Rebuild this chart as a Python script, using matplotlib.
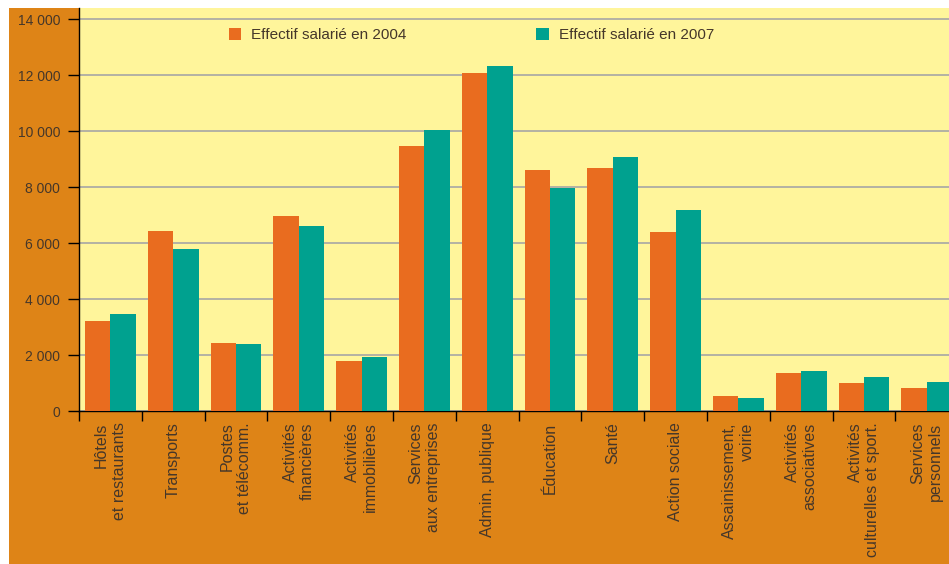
import matplotlib
matplotlib.use("Agg")
import matplotlib.pyplot as plt
from matplotlib.patches import Rectangle
import numpy as np

plt.rcParams['font.family'] = ['Liberation Sans', 'DejaVu Sans']

secteurs = [
    "Hôtels\net restaurants",
    "Transports",
    "Postes\net télécomm.",
    "Activités\nfinancières",
    "Activités\nimmobilières",
    "Services\naux entreprises",
    "Admin. publique",
    "Éducation",
    "Santé",
    "Action sociale",
    "Assainissement,\nvoirie",
    "Activités\nassociatives",
    "Activités\nculturelles et sport.",
    "Services\npersonnels",
]
effectif_2004 = [3220, 6440, 2440, 6980, 1800, 9480, 12080, 8620, 8690, 6400, 550, 1370, 1010, 830]
effectif_2007 = [3480, 5800, 2400, 6620, 1940, 10050, 12330, 7980, 9080, 7190, 480, 1440, 1230, 1050]
graduations = [0, 2000, 4000, 6000, 8000, 10000, 12000, 14000]

ORANGE_FOND = '#de8417'
JAUNE = '#fff59b'
ORANGE = '#e96c1f'
VERT = '#00a18f'
TEXTE = '#45372a'

W, H = 949, 564
fig = plt.figure(figsize=(W / 100, H / 100), dpi=100, facecolor='white')
fig.patches.append(Rectangle((9 / W, 0), 1, (H - 8) / H, transform=fig.transFigure,
                             facecolor=ORANGE_FOND, edgecolor='none', zorder=-1))

# the last group runs past the right edge of the page
left, bottom = 79 / W, (H - 411.3) / H
width, height = 14 * 62.8 / W, (411.3 - 8) / H
ax = fig.add_axes([left, bottom, width, height])
ax.set_facecolor(JAUNE)

x = np.arange(len(secteurs)) + 0.5
w = 0.405
b1 = ax.bar(x - w / 2, effectif_2004, w, color=ORANGE, zorder=3, label="Effectif salarié en 2004")
b2 = ax.bar(x + w / 2, effectif_2007, w, color=VERT, zorder=3, label="Effectif salarié en 2007")

ax.set_xlim(0, len(secteurs))
ax.set_ylim(0, 14000 + 11.3 / 0.028)

ax.set_yticks(graduations)
ax.set_yticklabels([f"{v:,}".replace(",", " ") for v in graduations], fontsize=10, color=TEXTE)
ax.yaxis.grid(True, color='#aeaca4', linewidth=1.3, zorder=1)
ax.set_axisbelow(True)

ax.set_xticks(np.arange(len(secteurs) + 1))
ax.set_xticklabels([])
ax.set_xticks(x, minor=True)
ax.set_xticklabels(secteurs, minor=True, rotation=90, fontsize=11.5, color=TEXTE,
                   va='top', ha='center')
for lab in ax.get_xticklabels(minor=True):
    lab.set_multialignment('right')

ax.tick_params(axis='y', direction='out', length=8, width=1, color='black', pad=5.5)
ax.tick_params(axis='x', which='major', direction='out', length=7, width=1, color='black')
ax.tick_params(axis='x', which='minor', length=0, pad=8)

for s in ['top', 'right']:
    ax.spines[s].set_visible(False)
for s in ['left', 'bottom']:
    ax.spines[s].set_color('black')
    ax.spines[s].set_linewidth(1)

leg = ax.legend(handles=[b1, b2], ncol=2, frameon=False, fontsize=11,
                loc='upper left', bbox_to_anchor=(229 / W, 1 - 28 / H),
                bbox_transform=fig.transFigure, borderpad=0, borderaxespad=0,
                handlelength=0.8, handleheight=0.8, handletextpad=0.65,
                columnspacing=8.5)
for t in leg.get_texts():
    t.set_color(TEXTE)

fig.savefig('out.png', dpi=100, facecolor=fig.get_facecolor())
